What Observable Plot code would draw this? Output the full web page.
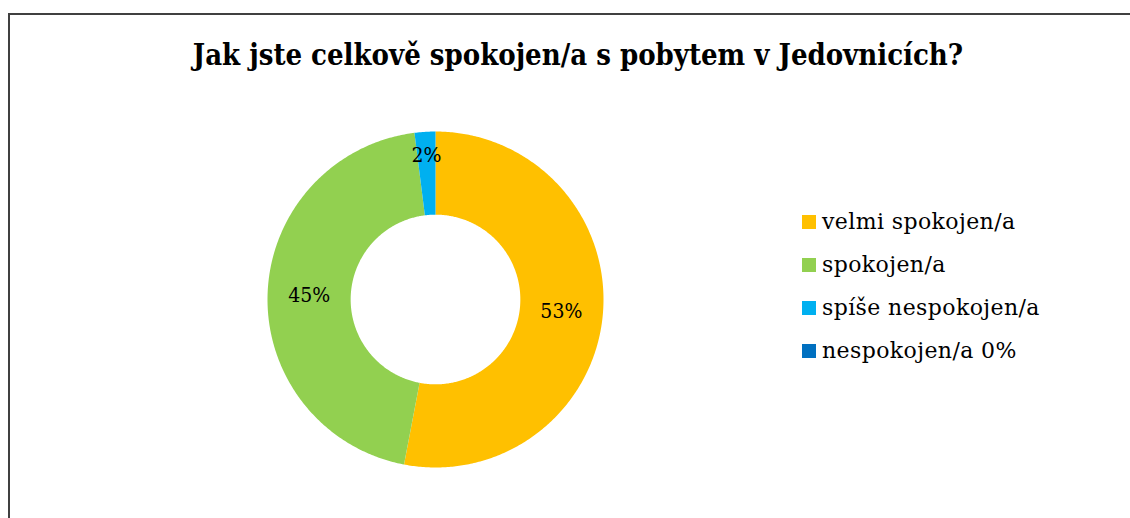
<!DOCTYPE html>
<html><head><meta charset="utf-8">
<script src="https://cdn.jsdelivr.net/npm/d3@7"></script>
<script src="https://cdn.jsdelivr.net/npm/@observablehq/plot@0.6"></script>
<style>
html,body{margin:0;padding:0;background:#fff;}
#wrap{position:relative;width:1130px;height:518px;overflow:hidden;font-family:"DejaVu Serif",serif;}
#frame{position:absolute;left:8px;top:13px;width:1200px;height:600px;border-left:2px solid #404040;border-top:2px solid #404040;}
#title{position:absolute;left:8px;width:1140px;top:38px;text-align:center;font-weight:bold;font-size:29px;color:#000;white-space:nowrap;font-family:"DejaVu Serif Condensed","DejaVu Serif",serif;}
#chart{position:absolute;left:0;top:0;}
#legend{position:absolute;left:802px;top:200px;}
.row{display:flex;align-items:center;height:43px;font-size:22px;letter-spacing:0.4px;color:#000;}
.sw{width:14px;height:14px;margin-right:6px;}
</style></head>
<body><div id="wrap"><div id="frame"></div><div id="title"></div><div id="chart"></div><div id="legend"></div></div>
<script>
const title = "Jak jste celkově spokojen/a s pobytem v Jedovnicích?";
const categories = ["velmi spokojen/a", "spokojen/a", "spíše nespokojen/a", "nespokojen/a 0%"];
const values = [53, 45, 2, 0];
const colors = ["#FFC000", "#92D050", "#00B0F0", "#0070C0"];

document.getElementById("title").textContent = title;

const inner = 0.505;
const total = d3.sum(values);
const pie = d3.pie().sort(null).value(d => d.value);
const arcs = pie(categories.map((c, i) => ({key: c, value: values[i]})));

const pts = [];
for (const a of arcs) {
  if (a.endAngle - a.startAngle <= 0) continue;
  const n = Math.max(4, Math.ceil((a.endAngle - a.startAngle) / 0.01));
  for (let k = 0; k <= n; k++) {
    const t = a.startAngle + (a.endAngle - a.startAngle) * k / n;
    pts.push({key: a.data.key, x: Math.sin(t), y: Math.cos(t)});
  }
  for (let k = n; k >= 0; k--) {
    const t = a.startAngle + (a.endAngle - a.startAngle) * k / n;
    pts.push({key: a.data.key, x: inner * Math.sin(t), y: inner * Math.cos(t)});
  }
}
const labels = arcs.filter(a => a.data.value > 0).map(a => {
  const m = (a.startAngle + a.endAngle) / 2;
  const r = a.data.value / total < 0.05 ? 0.86 : (1 + inner) / 2;
  return {x: r * Math.sin(m), y: r * Math.cos(m), text: Math.round(a.data.value / total * 100) + "%"};
});

const plot = Plot.plot({
  width: 1130, height: 518,
  marginLeft: 267, marginRight: 527, marginTop: 131, marginBottom: 51,
  x: {domain: [-1, 1], axis: null},
  y: {domain: [-1, 1], axis: null},
  color: {domain: categories, range: colors},
  style: {background: "transparent", fontFamily: "'DejaVu Serif Condensed','DejaVu Serif',serif"},
  marks: [
    Plot.line(pts, {x: "x", y: "y", z: "key", fill: "key", stroke: null}),
    Plot.text(labels, {x: "x", y: "y", text: "text", fontSize: 21, fill: "#000"})
  ]
});
document.getElementById("chart").appendChild(plot);

const leg = document.getElementById("legend");
categories.forEach((c, i) => {
  const row = document.createElement("div"); row.className = "row";
  const sw = document.createElement("div"); sw.className = "sw"; sw.style.background = colors[i];
  const tx = document.createElement("span"); tx.textContent = c;
  row.appendChild(sw); row.appendChild(tx); leg.appendChild(row);
});
</script></body></html>
